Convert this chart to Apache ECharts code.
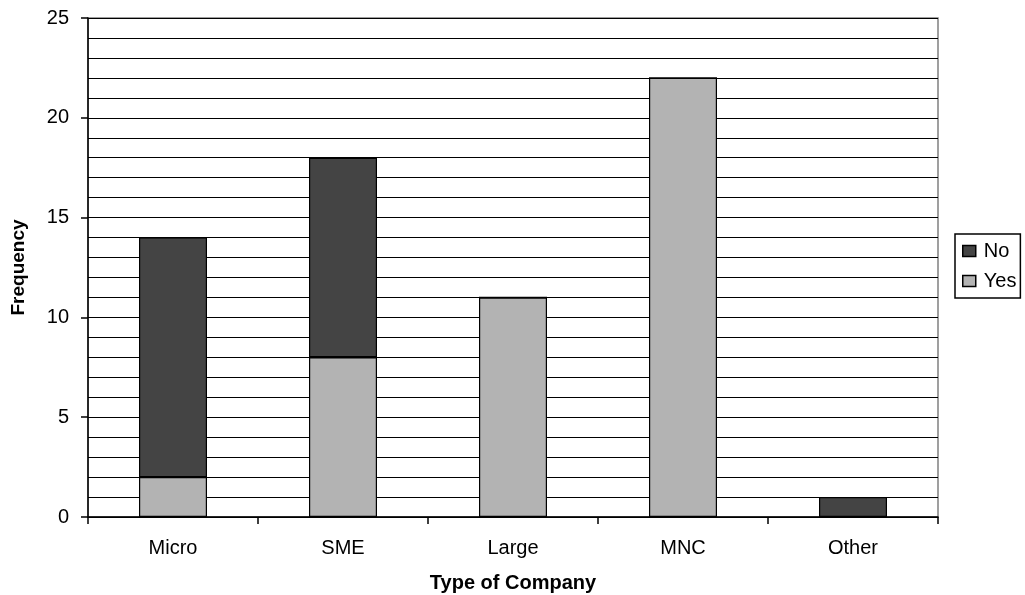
<!DOCTYPE html>
<html>
<head>
<meta charset="utf-8">
<script src="https://cdn.jsdelivr.net/npm/echarts@6/dist/echarts.min.js"></script>
<style>
  html, body { margin: 0; padding: 0; background: #fff; }
  #chart { width: 1025px; height: 595px; }
</style>
</head>
<body>
<div id="chart"></div>
<script>
// Company types on the category axis
var categories = ['Micro', 'SME', 'Large', 'MNC', 'Other'];
// Responses per company type
var yesValues = [2, 8, 11, 22, 0];
var noValues = [12, 10, 0, 0, 1];
// Value axis range and labelled step
var yMin = 0, yMax = 25, yStep = 5;

var font = '"Liberation Sans", Arial, sans-serif';
var chart = echarts.init(document.getElementById('chart'), null, { renderer: 'canvas' });

chart.setOption({
  animation: false,
  backgroundColor: '#ffffff',
  grid: {
    left: 88, top: 18, right: 87, bottom: 78,
    containLabel: false,
    outerBoundsMode: 'none',
    show: true, borderColor: '#808080', borderWidth: 1.5, backgroundColor: 'transparent'
  },
  legend: {
    data: ['No', 'Yes'],
    orient: 'vertical',
    left: 955, top: 234,
    itemWidth: 13, itemHeight: 11, itemGap: 10,
    borderColor: '#000', borderWidth: 1.5, padding: [7, 4, 7, 7],
    icon: 'rect',
    itemStyle: { borderColor: '#000', borderWidth: 1.5 },
    textStyle: { fontFamily: font, fontSize: 20, color: '#000', padding: [0, 0, 0, 3] }
  },
  xAxis: {
    type: 'category',
    data: categories,
    name: 'Type of Company',
    nameLocation: 'middle',
    nameGap: 56,
    nameTextStyle: { fontFamily: font, fontSize: 20, fontWeight: 'bold', color: '#000' },
    axisLine: { lineStyle: { color: '#000', width: 1.5 } },
    axisTick: { show: true, length: 7, lineStyle: { color: '#000', width: 1.5 } },
    axisLabel: { fontFamily: font, fontSize: 20, color: '#000', margin: 21 },
    splitLine: { show: false }
  },
  yAxis: {
    type: 'value',
    min: yMin, max: yMax, interval: yStep,
    name: 'Frequency',
    nameLocation: 'middle',
    nameGap: 60,
    nameRotate: 90,
    nameTextStyle: { fontFamily: font, fontSize: 19, fontWeight: 'bold', color: '#000' },
    axisLine: { show: true, lineStyle: { color: '#000', width: 1.5 } },
    axisTick: { show: true, length: 7, lineStyle: { color: '#000', width: 1.5 } },
    axisLabel: { fontFamily: font, fontSize: 20, color: '#000', margin: 19 },
    splitLine: { show: true, lineStyle: { color: '#000', width: 1 } },
    minorTick: { show: false, splitNumber: 5 },
    minorSplitLine: { show: true, lineStyle: { color: '#000', width: 1 } }
  },
  series: [
    {
      name: 'Yes', type: 'bar', stack: 'total', data: yesValues,
      barWidth: '40%',
      itemStyle: { color: '#b3b3b3', borderColor: '#000', borderWidth: 1.2 }
    },
    {
      name: 'No', type: 'bar', stack: 'total', data: noValues,
      barWidth: '40%',
      itemStyle: { color: '#444444', borderColor: '#000', borderWidth: 1.2 }
    }
  ]
});
</script>
</body>
</html>
